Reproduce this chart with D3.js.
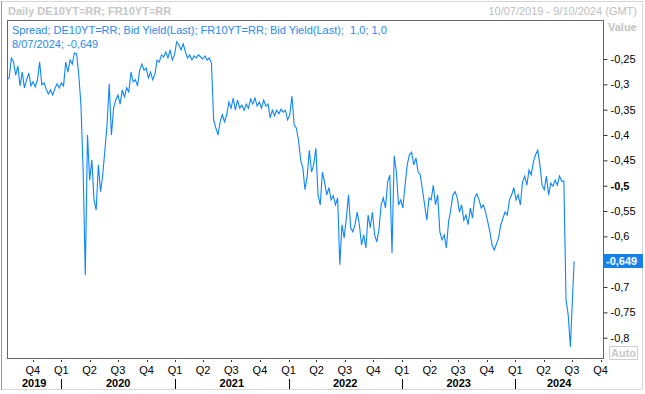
<!DOCTYPE html>
<html>
<head>
<meta charset="utf-8">
<script src="https://cdn.jsdelivr.net/npm/d3@7"></script>
<style>
  html, body { margin: 0; padding: 0; background: #fff; }
  svg { display: block; font-family: Tahoma, "Liberation Sans", Arial, sans-serif; }
</style>
</head>
<body>
<script>
// header texts
const title = "Daily DE10YT=RR; FR10YT=RR";
const dateRange = "10/07/2019 - 9/10/2024 (GMT)";
const legendLine1 = "Spread; DE10YT=RR; Bid Yield(Last); FR10YT=RR; Bid Yield(Last);  1,0; 1,0";
const legendLine2 = "8/07/2024; -0,649";

// weekly readings of the DE-FR 10y spread, starting 10 Jul 2019
const firstWeek = "2019-07-10";
const spread = [
  -0.291, -0.287, -0.248, -0.256, -0.282, -0.264, -0.303, -0.276, -0.307, -0.291,
  -0.278, -0.303, -0.295, -0.305, -0.291, -0.256, -0.301, -0.297, -0.309, -0.319,
  -0.311, -0.321, -0.309, -0.299, -0.307, -0.297, -0.303, -0.256, -0.276, -0.252,
  -0.260, -0.238, -0.240, -0.282, -0.341, -0.469, -0.676, -0.400, -0.489, -0.449,
  -0.528, -0.548, -0.459, -0.512, -0.479, -0.430, -0.380, -0.299, -0.400, -0.347,
  -0.331, -0.321, -0.339, -0.311, -0.325, -0.307, -0.315, -0.276, -0.295, -0.291,
  -0.303, -0.272, -0.260, -0.272, -0.268, -0.287, -0.276, -0.291, -0.280, -0.252,
  -0.256, -0.242, -0.246, -0.236, -0.248, -0.232, -0.252, -0.242, -0.216, -0.222,
  -0.232, -0.220, -0.236, -0.248, -0.242, -0.252, -0.244, -0.248, -0.242, -0.246,
  -0.250, -0.244, -0.252, -0.248, -0.258, -0.370, -0.386, -0.400, -0.374, -0.360,
  -0.374, -0.360, -0.335, -0.347, -0.327, -0.351, -0.331, -0.347, -0.341, -0.351,
  -0.339, -0.347, -0.329, -0.339, -0.327, -0.343, -0.335, -0.347, -0.331, -0.343,
  -0.339, -0.366, -0.351, -0.362, -0.351, -0.358, -0.349, -0.355, -0.351, -0.370,
  -0.360, -0.323, -0.380, -0.386, -0.410, -0.449, -0.465, -0.508, -0.481, -0.430,
  -0.473, -0.459, -0.426, -0.518, -0.538, -0.473, -0.493, -0.518, -0.504, -0.528,
  -0.520, -0.538, -0.524, -0.656, -0.577, -0.603, -0.564, -0.518, -0.583, -0.591,
  -0.577, -0.552, -0.577, -0.617, -0.597, -0.623, -0.558, -0.583, -0.552, -0.597,
  -0.611, -0.587, -0.538, -0.524, -0.544, -0.493, -0.479, -0.633, -0.441, -0.473,
  -0.538, -0.528, -0.544, -0.499, -0.459, -0.439, -0.434, -0.459, -0.445, -0.473,
  -0.479, -0.508, -0.538, -0.568, -0.524, -0.528, -0.499, -0.538, -0.518, -0.591,
  -0.607, -0.597, -0.623, -0.571, -0.548, -0.518, -0.512, -0.524, -0.552, -0.538,
  -0.568, -0.558, -0.577, -0.544, -0.564, -0.524, -0.516, -0.528, -0.544, -0.538,
  -0.552, -0.571, -0.591, -0.617, -0.627, -0.615, -0.603, -0.577, -0.564, -0.552,
  -0.558, -0.528, -0.518, -0.504, -0.528, -0.518, -0.538, -0.493, -0.481, -0.499,
  -0.469, -0.479, -0.453, -0.439, -0.430, -0.459, -0.499, -0.508, -0.481, -0.518,
  -0.495, -0.501, -0.489, -0.499, -0.481, -0.491, -0.491,
  -0.725, -0.755, -0.818, -0.720
];
const lastDate = "2024-07-08";
const lastValue = -0.649;

const xDomain = ["2019-07-10", "2024-10-09"];
const yDomain = [-0.842, -0.175];
const yTicks = [-0.25, -0.3, -0.35, -0.4, -0.45, -0.5, -0.55, -0.6, -0.7, -0.75, -0.8];

const width = 645, height = 394;
const plot = { left: 7, top: 21, right: 603, bottom: 359 };
const lineColor = "#0c86ff";

const parse = d3.utcParse("%Y-%m-%d");
const start = parse(firstWeek);
const data = spread.map((v, i) => ({ date: d3.utcDay.offset(start, 7 * i), value: v }));
data.push({ date: parse(lastDate), value: lastValue });

const x = d3.scaleUtc().domain(xDomain.map(parse)).range([plot.left, plot.right]);
const y = d3.scaleLinear().domain(yDomain).range([plot.bottom, plot.top]);

const svg = d3.select("body").append("svg")
    .attr("width", width)
    .attr("height", height)
    .style("font-size", "11px");

// outer frame
svg.append("rect")
    .attr("x", 1.5).attr("y", 1.5)
    .attr("width", 641).attr("height", 388)
    .attr("fill", "none")
    .attr("stroke", "#d6d6d6");
svg.append("line")
    .attr("x1", 1.5).attr("x2", 1.5)
    .attr("y1", 1).attr("y2", 390)
    .attr("stroke", "#999");

// headers
svg.append("text")
    .attr("x", 8).attr("y", 15)
    .attr("font-weight", "bold")
    .attr("fill", "#c6c6c6")
    .text(title);
svg.append("text")
    .attr("x", 637).attr("y", 15)
    .attr("text-anchor", "end")
    .attr("fill", "#bdbdbd")
    .text(dateRange);
svg.append("text")
    .attr("x", 608).attr("y", 31)
    .attr("font-weight", "bold")
    .attr("fill", "#c2c2c2")
    .text("Value");

// plot box
svg.append("rect")
    .attr("x", plot.left + 0.5).attr("y", plot.top - 0.5)
    .attr("width", plot.right - plot.left).attr("height", plot.bottom - plot.top)
    .attr("fill", "none")
    .attr("stroke", "#666");

svg.append("clipPath").attr("id", "clip")
  .append("rect")
    .attr("x", plot.left + 1).attr("y", plot.top)
    .attr("width", plot.right - plot.left - 1).attr("height", plot.bottom - plot.top - 1);

const line = d3.line()
    .x(d => x(d.date))
    .y(d => y(d.value));

svg.append("path")
    .datum(data)
    .attr("clip-path", "url(#clip)")
    .attr("fill", "none")
    .attr("stroke", lineColor)
    .attr("stroke-width", 1.1)
    .attr("d", line);

// legend
svg.append("text")
    .attr("x", 12).attr("y", 34)
    .attr("fill", "#2a8af0")
    .style("white-space", "pre")
    .text(legendLine1);
svg.append("text")
    .attr("x", 12).attr("y", 48)
    .attr("fill", "#2a8af0")
    .text(legendLine2);

// y axis on the right
const fmt = d => String(d).replace(".", ",");
const yAxis = svg.append("g")
    .attr("transform", `translate(${plot.right + 0.5},0)`)
    .call(d3.axisRight(y).tickValues(yTicks).tickSize(4).tickPadding(3).tickFormat(fmt));
yAxis.select(".domain").remove();
yAxis.selectAll(".tick line").attr("stroke", "#333");
yAxis.selectAll(".tick text")
    .attr("fill", "#000")
    .style("font-size", "11px")
    .style("font-family", "Tahoma, 'Liberation Sans', Arial, sans-serif")
    .attr("font-weight", d => d === -0.5 ? "bold" : null);

// current value badge
const yl = Math.round(y(lastValue));
svg.append("rect")
    .attr("x", plot.right + 1).attr("y", yl - 7)
    .attr("width", 39).attr("height", 14)
    .attr("fill", "#1681ec");
svg.append("text")
    .attr("x", plot.right + 3).attr("y", yl)
    .attr("dy", "0.35em")
    .attr("fill", "#fff")
    .attr("font-weight", "bold")
    .text(fmt(lastValue));

// "Auto" button
svg.append("rect")
    .attr("x", 609.5).attr("y", 346.5)
    .attr("width", 28).attr("height", 13)
    .attr("fill", "#fff")
    .attr("stroke", "#cfcfcf");
svg.append("text")
    .attr("x", 623.5).attr("y", 353)
    .attr("dy", "0.35em")
    .attr("text-anchor", "middle")
    .attr("font-weight", "bold")
    .attr("fill", "#c8c8c8")
    .text("Auto");

// x axis: quarters and years
const [d0, d1] = x.domain();
const quarters = d3.utcMonth.every(3).range(d0, d1);
const xg = svg.append("g");
xg.selectAll("line.q")
  .data(quarters)
  .join("line")
    .attr("class", "q")
    .attr("x1", d => Math.round(x(d)) + 0.5)
    .attr("x2", d => Math.round(x(d)) + 0.5)
    .attr("y1", 360).attr("y2", 362)
    .attr("stroke", "#333");
xg.selectAll("text.q")
  .data(quarters)
  .join("text")
    .attr("class", "q")
    .attr("x", d => x(d))
    .attr("y", 374)
    .attr("text-anchor", "middle")
    .attr("fill", "#000")
    .text(d => "Q" + (d.getUTCMonth() / 3 + 1));

const years = d3.utcYear.range(d3.utcYear.floor(d0), d1);
xg.selectAll("text.y")
  .data(years)
  .join("text")
    .attr("class", "y")
    .attr("x", d => {
      const a = Math.max(x(d), plot.left);
      const b = Math.min(x(d3.utcYear.offset(d, 1)), plot.right);
      return (a + b) / 2;
    })
    .attr("y", 387)
    .attr("text-anchor", "middle")
    .attr("font-weight", "bold")
    .attr("fill", "#000")
    .text(d => d.getUTCFullYear());
xg.selectAll("line.y")
  .data(years.filter(d => d > d0))
  .join("line")
    .attr("class", "y")
    .attr("x1", d => Math.round(x(d)) + 0.5)
    .attr("x2", d => Math.round(x(d)) + 0.5)
    .attr("y1", 379).attr("y2", 389)
    .attr("stroke", "#000");
</script>
</body>
</html>
